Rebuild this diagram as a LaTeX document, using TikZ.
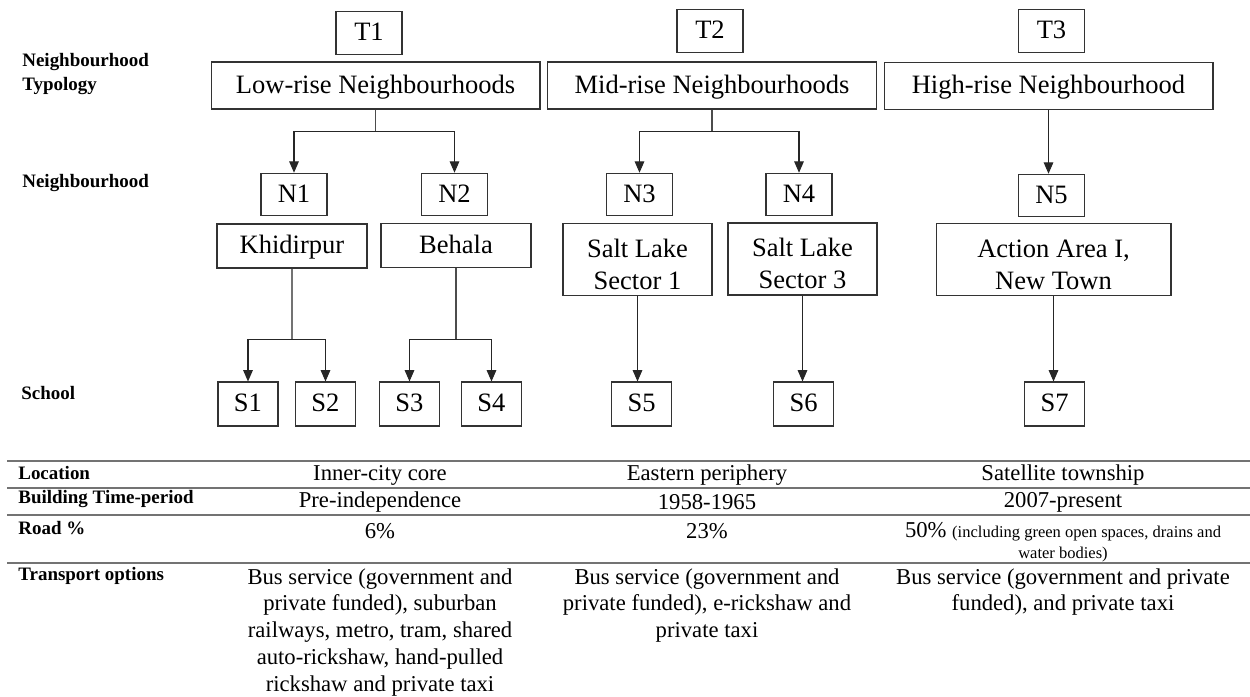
\documentclass[tikz,border=0pt]{standalone}
\usepackage{fontspec}
\setmainfont{Liberation Serif}
\usetikzlibrary{arrows.meta, positioning, calc}

\newcommand{\boxfont}{\fontsize{15.1}{18}\selectfont}
\newcommand{\rowfont}{\fontsize{12.9}{15.3}\selectfont}
\newcommand{\headfont}{\fontsize{10.8}{14.2}\selectfont\bfseries}
\newcommand{\notefont}{\fontsize{9.4}{11.9}\selectfont}
\newcommand{\topgap}{\rule{0pt}{1.05em}}

\begin{document}
\begin{tikzpicture}[
    x=0.02cm, y=-0.02cm,
    box/.style={draw=black!80, line width=0.6pt, font=\boxfont, inner sep=0pt, align=center},
    oneline/.style={box, text height=1em, text depth=0.1em},
    tag/.style={oneline, minimum width=1.32cm, minimum height=0.85cm},
    typo/.style={oneline, minimum width=6.58cm, minimum height=0.94cm},
    place/.style={oneline, minimum width=3cm, minimum height=0.88cm},
    place2/.style={box, minimum width=2.98cm, minimum height=1.44cm},
    school/.style={oneline, minimum width=1.2cm, minimum height=0.88cm},
    head/.style={font=\headfont, anchor=west, align=left, inner sep=0pt},
    cell/.style={font=\rowfont, align=center, inner sep=0pt},
    line/.style={draw=black!70, line width=0.6pt},
    arrow/.style={line, draw=black!85, -{Triangle[length=6.5pt, width=5.5pt]}},
    rule/.style={draw=black!55, line width=0.6pt}
]
\useasboundingbox (0,0) rectangle (1250,696);

% Row labels
\node[head] (lbltypo) at (22,74) {Neighbourhood\\Typology};
\node[head] (lblnbh) at (22,183) {Neighbourhood};
\node[head] (lblschool) at (21,393) {School};

% Typology
\node[tag] (t1) at (369,33) {T1};
\node[tag] (t2) at (710,31) {T2};
\node[tag] (t3) at (1051.5,31) {T3};
\node[typo] (low) at (375.5,85.5) {Low-rise Neighbourhoods};
\node[typo] (mid) at (712,85.5) {Mid-rise Neighbourhoods};
\node[typo] (high) at (1048.5,86) {High-rise Neighbourhood};

% Neighbourhoods
\node[tag] (n1) at (294,194.5) {N1};
\node[tag] (n2) at (454.5,194.5) {N2};
\node[tag] (n3) at (639.5,194.5) {N3};
\node[tag] (n4) at (799,194.5) {N4};
\node[tag] (n5) at (1051.5,195.5) {N5};

\node[place] (khid) at (292,246) {Khidirpur};
\node[place] (beh) at (456,245.5) {Behala};
\node[place2] (sl1) at (637.5,259.5) {\topgap Salt Lake\\Sector 1};
\node[place2] (sl3) at (802.5,259) {\topgap Salt Lake\\Sector 3};
\node[place2, minimum width=4.7cm] (aa) at (1053.5,259.5) {\topgap Action Area I,\\New Town};

% Schools
\node[school] (s1) at (248,404) {S1};
\node[school] (s2) at (325.5,404) {S2};
\node[school] (s3) at (409.5,404) {S3};
\node[school] (s4) at (491.5,404) {S4};
\node[school] (s5) at (641.5,404) {S5};
\node[school] (s6) at (803.5,404) {S6};
\node[school] (s7) at (1054.5,404) {S7};

% Connectors
\draw[line] (low.south) -- ++(0,22) coordinate (jlow);
\draw[arrow] (jlow) -| (n1.north);
\draw[arrow] (jlow) -| (n2.north);
\draw[line] (mid.south) -- ++(0,22) coordinate (jmid);
\draw[arrow] (jmid) -| (n3.north);
\draw[arrow] (jmid) -| (n4.north);
\draw[arrow] (high.south) -- (high.south |- n5.north);

\draw[line, draw=black!55] (khid.south) -- ++(0,71) coordinate (jkhid);
\draw[arrow] (jkhid) -| (s1.north);
\draw[arrow] (jkhid) -| (s2.north);
\draw[line] (beh.south) -- (beh.south |- jkhid) coordinate (jbeh);
\draw[arrow] (jbeh) -| (s3.north);
\draw[arrow] (jbeh) -| (s4.north);
\draw[arrow] (sl1.south) -- (sl1.south |- s5.north);
\draw[arrow] (sl3.south) -- (sl3.south |- s6.north);
\draw[arrow] (aa.south) -- (aa.south |- s7.north);

% Table
\foreach \y in {461,488,515,563}
    \draw[rule] (7,\y) -- (1250,\y);

\node[head] (lblloc) at (18,473) {Location};
\node[head] (lblbuild) at (18,499) {Building Time-period};
\node[head] (lblroad) at (18,528) {Road \%};
\node[head] (lbltrans) at (18,576) {Transport options};

\node[cell] (loc1) at (380,475) {Inner-city core};
\node[cell] (loc2) at (707,475) {Eastern periphery};
\node[cell] (loc3) at (1063,475) {Satellite township};

\node[cell] (bld1) at (380,502) {Pre-independence};
\node[cell] (bld2) at (707,502) {1958-1965};
\node[cell] (bld3) at (1063,502) {2007-present};

\node[cell] (road1) at (380,531) {6\%};
\node[cell] (road2) at (707,531) {23\%};
\node[cell, anchor=north, font=\fontsize{12.9}{11.9}\selectfont] (road3) at (1063,522) {50\% {\notefont (including green open spaces, drains and}\\{\notefont water bodies)}};

\node[cell, anchor=north] (tr1) at (380,568) {Bus service (government and\\private funded), suburban\\railways, metro, tram, shared\\auto-rickshaw, hand-pulled\\rickshaw and private taxi};
\node[cell, anchor=north] (tr2) at (707,568) {Bus service (government and\\private funded), e-rickshaw and\\private taxi};
\node[cell, anchor=north] (tr3) at (1063,568) {Bus service (government and private\\funded), and private taxi};

\end{tikzpicture}
\end{document}
